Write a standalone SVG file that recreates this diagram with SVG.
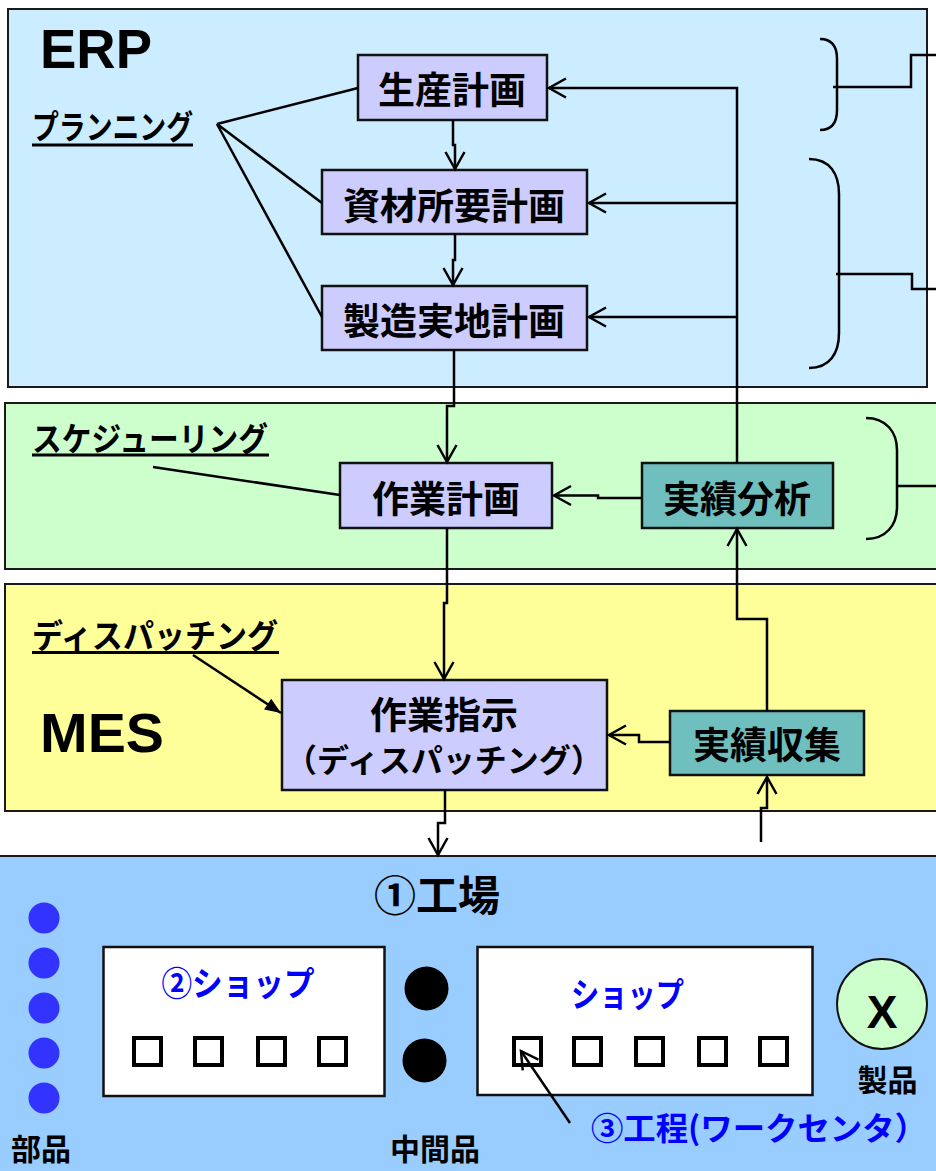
<svg xmlns="http://www.w3.org/2000/svg" width="936" height="1171" viewBox="0 0 936 1171">
<style>
.panel{stroke:#1a1a1a;stroke-width:2}
.box{fill:#CCCCFF;stroke:#111;stroke-width:2.5}
.tbox{fill:#6FBFBF;stroke:#111;stroke-width:2.5}
.jp{font-family:"Noto Sans CJK JP","Noto Sans CJK SC",sans-serif;font-weight:700;fill:#000}
.bt{font-size:37px;text-anchor:middle}
.lbl{font-size:33px}
.en{font-family:"Liberation Sans",Arial,sans-serif;font-weight:700;fill:#000}
.con{fill:none;stroke:#000;stroke-width:2.5}
.ul{stroke:#000;stroke-width:3}
.shop{fill:#fff;stroke:#111;stroke-width:2.5}
.sq{fill:none;stroke:#000;stroke-width:4}
.blue{fill:#0000FF}
</style>
<defs>
<marker id="oa" markerUnits="userSpaceOnUse" viewBox="-20 -12 22 24" refX="0" refY="0" markerWidth="22" markerHeight="24" orient="auto" overflow="visible">
<path d="M-17,-9.5 L0,0 L-17,9.5" fill="none" stroke="#000" stroke-width="2.5"/>
</marker>
<marker id="fa" markerUnits="userSpaceOnUse" viewBox="-16 -8 17 16" refX="0" refY="0" markerWidth="17" markerHeight="16" orient="auto" overflow="visible">
<path d="M-16,-6.5 L0,0 L-16,6.5 Z" fill="#000"/>
</marker>
</defs>
<rect width="936" height="1171" fill="#fff"/>

<g id="panels">
<rect id="erp-panel" class="panel" x="8" y="9" width="919" height="378" fill="#CCECFF"/>
<rect id="sched-panel" class="panel" x="5" y="403" width="945" height="166" fill="#CCFFCC"/>
<rect id="mes-panel" class="panel" x="5" y="584" width="945" height="227" fill="#FFFF99"/>
<rect id="factory-panel" class="panel" x="-3" y="856" width="950" height="330" fill="#99CCFF"/>
</g>

<g id="titles">
<text class="en" x="40" y="68" font-size="56" textLength="112" lengthAdjust="spacingAndGlyphs">ERP</text>
<text class="en" x="40" y="752" font-size="56" textLength="124" lengthAdjust="spacingAndGlyphs">MES</text>
</g>

<g id="label-planning">
<text class="jp lbl" x="32" y="139" textLength="161" lengthAdjust="spacingAndGlyphs">プランニング</text>
<line class="ul" x1="32" y1="145" x2="193" y2="145"/>
</g>
<g id="label-scheduling">
<text class="jp lbl" x="32" y="451" textLength="236" lengthAdjust="spacingAndGlyphs">スケジューリング</text>
<line class="ul" x1="32" y1="455" x2="269" y2="455"/>
</g>
<g id="label-dispatching">
<text class="jp lbl" x="32" y="648" textLength="246" lengthAdjust="spacingAndGlyphs">ディスパッチング</text>
<line class="ul" x1="32" y1="652.5" x2="279" y2="652.5"/>
</g>

<g id="braces" class="con">
<path d="M820,39 C832,39 837,47 837,59 L837,110 C837,122 832,130 820,130"/>
<path d="M833,87 L911,87 L911,55 L936,55"/>
<path d="M809,159 C830,159 839,174 839,194 L839,333 C839,353 830,368 809,368"/>
<path d="M836,274 L912,274 L912,289 L936,289"/>
<path d="M866,418 C886,418 897,432 897,450 L897,507 C897,525 886,539 866,539"/>
<path d="M897,486 L936,486"/>
</g>

<g id="node-seisan">
<rect class="box" x="358" y="55" width="189" height="65"/>
<text class="jp bt" x="452" y="103.5">生産計画</text>
</g>
<g id="node-shizai">
<rect class="box" x="322" y="170" width="265" height="64"/>
<text class="jp bt" x="454" y="219.5">資材所要計画</text>
</g>
<g id="node-seizou">
<rect class="box" x="322" y="286" width="265" height="64"/>
<text class="jp bt" x="454" y="335">製造実地計画</text>
</g>
<g id="node-sagyoukeikaku">
<rect class="box" x="340" y="463" width="212" height="65"/>
<text class="jp bt" x="446" y="512.5">作業計画</text>
</g>
<g id="node-jissekibunseki">
<rect class="tbox" x="642" y="463" width="191" height="65"/>
<text class="jp bt" x="737" y="513">実績分析</text>
</g>
<g id="node-sagyoushiji">
<rect class="box" x="282" y="680" width="325" height="110"/>
<text class="jp bt" x="444" y="729">作業指示</text>
<text class="jp" x="444" y="772" font-size="32" text-anchor="middle">（ディスパッチング）</text>
</g>
<g id="node-jissekishuushuu">
<rect class="tbox" x="670" y="711" width="194" height="64"/>
<text class="jp bt" x="767" y="759">実績収集</text>
</g>

<g id="factory">
<text class="jp" x="437" y="911" font-size="42" text-anchor="middle">①工場</text>
</g>
<g id="parts">
<circle cx="44" cy="918" r="15.5" fill="#3333FF"/>
<circle cx="44" cy="963" r="15.5" fill="#3333FF"/>
<circle cx="44" cy="1008" r="15.5" fill="#3333FF"/>
<circle cx="44" cy="1053" r="15.5" fill="#3333FF"/>
<circle cx="44" cy="1098" r="15.5" fill="#3333FF"/>
<text class="jp" x="41" y="1160" font-size="30" text-anchor="middle">部品</text>
</g>
<g id="shop1">
<rect class="shop" x="103.5" y="947" width="281" height="149"/>
<text class="jp blue" x="238" y="996" font-size="34" text-anchor="middle" textLength="153" lengthAdjust="spacingAndGlyphs">②ショップ</text>
<rect class="sq" x="134" y="1038" width="27" height="27"/>
<rect class="sq" x="195" y="1038" width="27" height="27"/>
<rect class="sq" x="258" y="1038" width="27" height="27"/>
<rect class="sq" x="319" y="1038" width="27" height="27"/>
</g>
<g id="intermediate">
<circle cx="426.5" cy="988.5" r="22" fill="#000"/>
<circle cx="424.5" cy="1060.5" r="22" fill="#000"/>
<text class="jp" x="435" y="1160" font-size="30" text-anchor="middle">中間品</text>
</g>
<g id="shop2">
<rect class="shop" x="477.5" y="947" width="335" height="148"/>
<text class="jp blue" x="627.5" y="1007" font-size="34" text-anchor="middle" textLength="113" lengthAdjust="spacingAndGlyphs">ショップ</text>
<rect class="sq" x="514" y="1038" width="27" height="27"/>
<rect class="sq" x="574" y="1038" width="27" height="27"/>
<rect class="sq" x="636" y="1038" width="27" height="27"/>
<rect class="sq" x="699" y="1038" width="27" height="27"/>
<rect class="sq" x="760" y="1038" width="27" height="27"/>
</g>
<g id="product">
<circle cx="882" cy="1004" r="45" fill="#CCFFCC" stroke="#111" stroke-width="2"/>
<text class="en" x="882" y="1028" font-size="46" text-anchor="middle">X</text>
<text class="jp" x="887.5" y="1091" font-size="30" text-anchor="middle">製品</text>
</g>
<g id="process-label">
<text class="jp blue" x="591" y="1140" font-size="32" textLength="336" lengthAdjust="spacingAndGlyphs">③工程(ワークセンタ）</text>
</g>

<g id="connectors" class="con">
<path d="M217,124 L358,88"/>
<path d="M217,124 L322,203"/>
<path d="M217,124 L322,317"/>
<path d="M153,467 L340,495"/>
<path d="M193,655 L281,713" marker-end="url(#fa)"/>
<path d="M453,120 L453,145 L455,145 L455,169" marker-end="url(#oa)"/>
<path d="M455,234 L455,260 L453,260 L453,285" marker-end="url(#oa)"/>
<path d="M737,463 L737,88 L549,88" marker-end="url(#oa)"/>
<path d="M737,203 L589,203" marker-end="url(#oa)"/>
<path d="M737,317 L589,317" marker-end="url(#oa)"/>
<path d="M454,350 L454,406 L447,406 L447,462" marker-end="url(#oa)"/>
<path d="M642,498 L598,498 L598,495.5 L554,495.5" marker-end="url(#oa)"/>
<path d="M447,528 L447,603 L444,603 L444,679" marker-end="url(#oa)"/>
<path d="M670,742 L639,742 L639,735 L609,735" marker-end="url(#oa)"/>
<path d="M767,711 L767,619 L737,619 L737,529" marker-end="url(#oa)"/>
<path d="M761,842 L761,808 L767,808 L767,777" marker-end="url(#oa)"/>
<path d="M445,790 L445,823 L438,823 L438,855" marker-end="url(#oa)"/>
<path d="M570,1123 L521,1051" marker-end="url(#oa)"/>
</g>
</svg>
